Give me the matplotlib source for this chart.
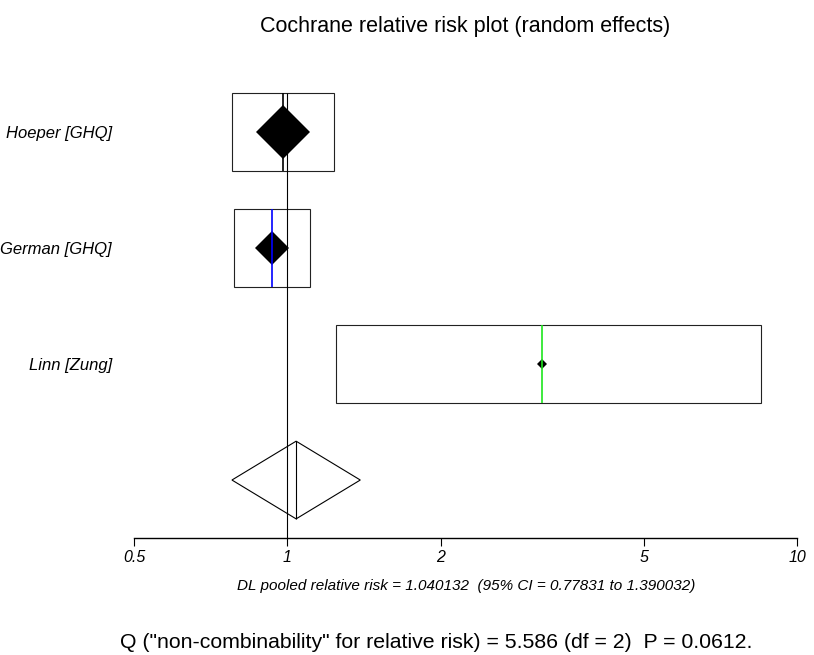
"""Cochrane relative risk forest plot (random effects), StatsDirect style."""
import matplotlib
matplotlib.use("Agg")
import matplotlib.pyplot as plt
from matplotlib.patches import Rectangle, Polygon
from matplotlib.ticker import NullLocator
import numpy as np

plt.rcParams['font.family'] = ['Liberation Sans', 'DejaVu Sans']

# data
studies = ["Hoeper [GHQ]", "German [GHQ]", "Linn [Zung]"]
rr = [0.979, 0.934, 3.16]
ci_low = [0.777, 0.785, 1.244]
ci_high = [1.236, 1.108, 8.50]
weights = [70.7, 26.6, 2.7]          # % weight (marker area)
line_colors = ["black", "#0000ff", "#1ee61e"]

pooled_rr = 1.040132
pooled_low = 0.77831
pooled_high = 1.390032
q_stat = 5.586
q_df = 2
q_p = 0.0612

x_ticks = [0.5, 1, 2, 5, 10]
x_tick_labels = ["0.5", "1", "2", "5", "10"]

title = "Cochrane relative risk plot (random effects)"

W, H = 814, 655
fig = plt.figure(figsize=(W / 100, H / 100), dpi=100)
ax = fig.add_axes([134 / W, 1 - 538 / H, (797 - 134) / W, (538 - 74.2) / H])

rows = np.arange(len(studies), 0, -1)   # 3, 2, 1 ; pooled at 0
half = 0.335

# reference line at RR = 1
ax.vlines(1, -0.5, rows[0] + half, color="black", lw=0.8, zorder=2)

for i, row in enumerate(rows):
    ax.add_patch(Rectangle((ci_low[i], row - half), ci_high[i] - ci_low[i], 2 * half,
                           fill=False, edgecolor="#222222", lw=0.8, zorder=1))
    ax.plot([rr[i]], [row], marker="D", color="black", mec="black", mew=0,
            ms=3.29 * np.sqrt(weights[i]), zorder=3)
    ax.vlines(rr[i], row - half, row + half, color=line_colors[i], lw=1.2, zorder=4)

# pooled diamond
ax.add_patch(Polygon([(pooled_low, 0), (pooled_rr, half), (pooled_high, 0), (pooled_rr, -half)],
                     closed=True, fill=False, edgecolor="black", lw=0.8, zorder=3))
ax.vlines(pooled_rr, -half, half, color="black", lw=0.8, zorder=3)

ax.set_xscale("log")
ax.set_xlim(0.5, 10)
ax.set_ylim(-0.5, 3.5)
ax.set_xticks(x_ticks)
ax.set_xticklabels(x_tick_labels, fontstyle="italic", fontsize=11.5)
ax.xaxis.set_minor_locator(NullLocator())
ax.tick_params(axis="x", direction="out", length=6, width=0.8, pad=2.5)

ax.set_yticks(rows)
ax.set_yticklabels(studies, fontstyle="italic", fontsize=12)
ax.tick_params(axis="y", length=0, pad=16)

for side in ["top", "right", "left"]:
    ax.spines[side].set_visible(False)
ax.spines["bottom"].set_linewidth(1.0)

fig.text(465 / W, 1 - 32 / H, title, ha="center", va="baseline", fontsize=15.5)
fig.text(466 / W, 1 - 590 / H,
         f"DL pooled relative risk = {pooled_rr}  (95% CI = {pooled_low} to {pooled_high})",
         ha="center", va="baseline", fontsize=11, fontstyle="italic")
fig.text(120 / W, 1 - 648 / H,
         f'Q ("non-combinability" for relative risk) = {q_stat} (df = {q_df})  P = {q_p}.',
         ha="left", va="baseline", fontsize=15.3)

fig.savefig("out.png", dpi=100)
